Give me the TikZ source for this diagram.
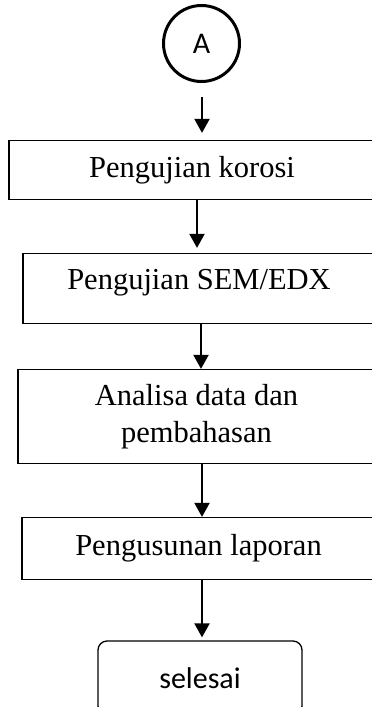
\documentclass[tikz,border=0pt]{standalone}
\usepackage{fontspec}
\setmainfont{Liberation Serif}
\newfontfamily\calibfont{Carlito}
\usetikzlibrary{arrows.meta, positioning, shapes.geometric}

\begin{document}
\begin{tikzpicture}[
    x=1pt, y=1pt,
    >={Triangle[width=15pt, length=14pt]},
    pbox/.style={draw, line width=1.3pt, inner sep=0pt,
                 font=\fontsize{30.5}{37}\selectfont, align=center},
    cnode/.style={draw, circle, line width=3pt, minimum size=76pt,
                  inner sep=0pt, font=\calibfont\fontsize{30}{34}\selectfont},
    tnode/.style={draw, rounded corners=9pt, line width=1.3pt,
                  minimum width=204pt, minimum height=74pt, inner sep=0pt,
                  font=\calibfont\fontsize{30}{34}\selectfont},
    arr/.style={->, line width=2.2pt}
  ]
  \useasboundingbox (0,0) rectangle (372,-707);

  \node[cnode] (A) at (201.5,-43.5) {A};
  \node[pbox, minimum width=366pt, minimum height=59pt] (korosi) at (192,-170) {Pengujian korosi};
  \node[pbox, minimum width=352pt, minimum height=70pt,
        text height=20pt, text depth=18pt] (sem) at (199,-288.5) {Pengujian SEM/EDX};
  \node[pbox, minimum width=357pt, minimum height=94pt] (analisa) at (196.5,-416.5) {Analisa data dan\\pembahasan};
  \node[pbox, minimum width=353pt, minimum height=62pt] (laporan) at (198.5,-548.5) {Pengusunan laporan};
  \node[tnode] (selesai) at (200,-678) {selesai};

  % x positions of the arrows
  \coordinate (ax1) at (202,0);
  \coordinate (ax2) at (197,0);
  \coordinate (ax3) at (201,0);

  \draw[arr, shorten <=14pt, shorten >=7pt] (A.south -| ax1) -- (korosi.north -| ax1);
  \draw[arr, shorten >=5pt] (korosi.south -| ax2) -- (sem.north -| ax2);
  \draw[arr] (sem.south -| ax3) -- (analisa.north -| ax3);
  \draw[arr] (analisa.south -| ax1) -- (laporan.north -| ax1);
  \draw[arr, shorten >=3pt] (laporan.south -| ax1) -- (selesai.north -| ax1);
\end{tikzpicture}
\end{document}
